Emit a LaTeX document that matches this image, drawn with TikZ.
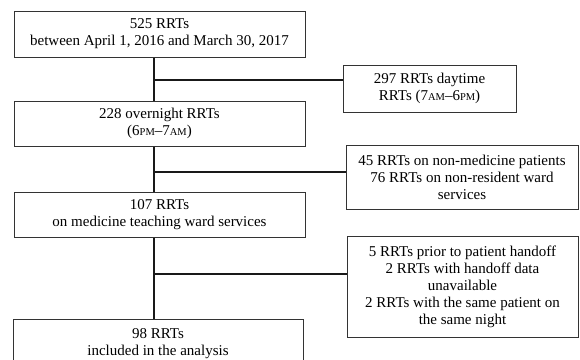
\documentclass[tikz,border=0pt]{standalone}
\usepackage{fontspec}
\setmainfont{Liberation Serif}
\newcommand\smc[1]{{\fontsize{10.5}{11}\selectfont #1}}
\begin{document}
\begin{tikzpicture}[x=1pt,y=-1pt,
  box/.style={draw=black!80, line width=1pt, align=center, inner sep=0pt, fill=white,
              font=\fontsize{15}{17}\selectfont},
  conn/.style={draw=black!90, line width=1.2pt},
  connb/.style={draw=black!90, line width=2.2pt}]
\useasboundingbox (0,0) rectangle (580,359);
\coordinate (spine) at (154,0);
\node[box, minimum width=291, minimum height=46] (b1) at (159.5,34)
  {525 RRTs\\between April 1, 2016 and March 30, 2017};
\node[box, minimum width=173, minimum height=47] (day) at (429.5,88.5)
  {297 RRTs daytime\\RRTs (7\smc{AM}–6\smc{PM})};
\node[box, minimum width=291, minimum height=45] (b2) at (159.5,123.5)
  {228 overnight RRTs\\(6\smc{PM}–7\smc{AM})};
\node[box, minimum width=232, minimum height=64] (ex2) at (462,177)
  {45 RRTs on non-medicine patients\\76 RRTs on non-resident ward\\services};
\node[box, minimum width=291, minimum height=45] (b3) at (159.5,214.5)
  {107 RRTs\\on medicine teaching ward services};
\node[box, minimum width=231, minimum height=101] (ex3) at (462.5,286.5)
  {5 RRTs prior to patient handoff\\2 RRTs with handoff data\\unavailable\\2 RRTs with the same patient on\\the same night};
\node[box, minimum width=290, minimum height=49] (b4) at (158,343.5)
  {98 RRTs\\included in the analysis};
\coordinate (j1) at (154,80);
\coordinate (j2) at (154,172);
\coordinate (j3) at (154,274);
\draw[connb] (b1.south -| spine) -- (b2.north -| spine);
\draw[connb] (j1) -- (j1 -| day.west);
\draw[conn] (b2.south -| spine) -- (b3.north -| spine);
\draw[conn] (j2) -- (j2 -| ex2.west);
\draw[conn] (b3.south -| spine) -- (b4.north -| spine);
\draw[conn] (j3) -- (j3 -| ex3.west);
\end{tikzpicture}
\end{document}
